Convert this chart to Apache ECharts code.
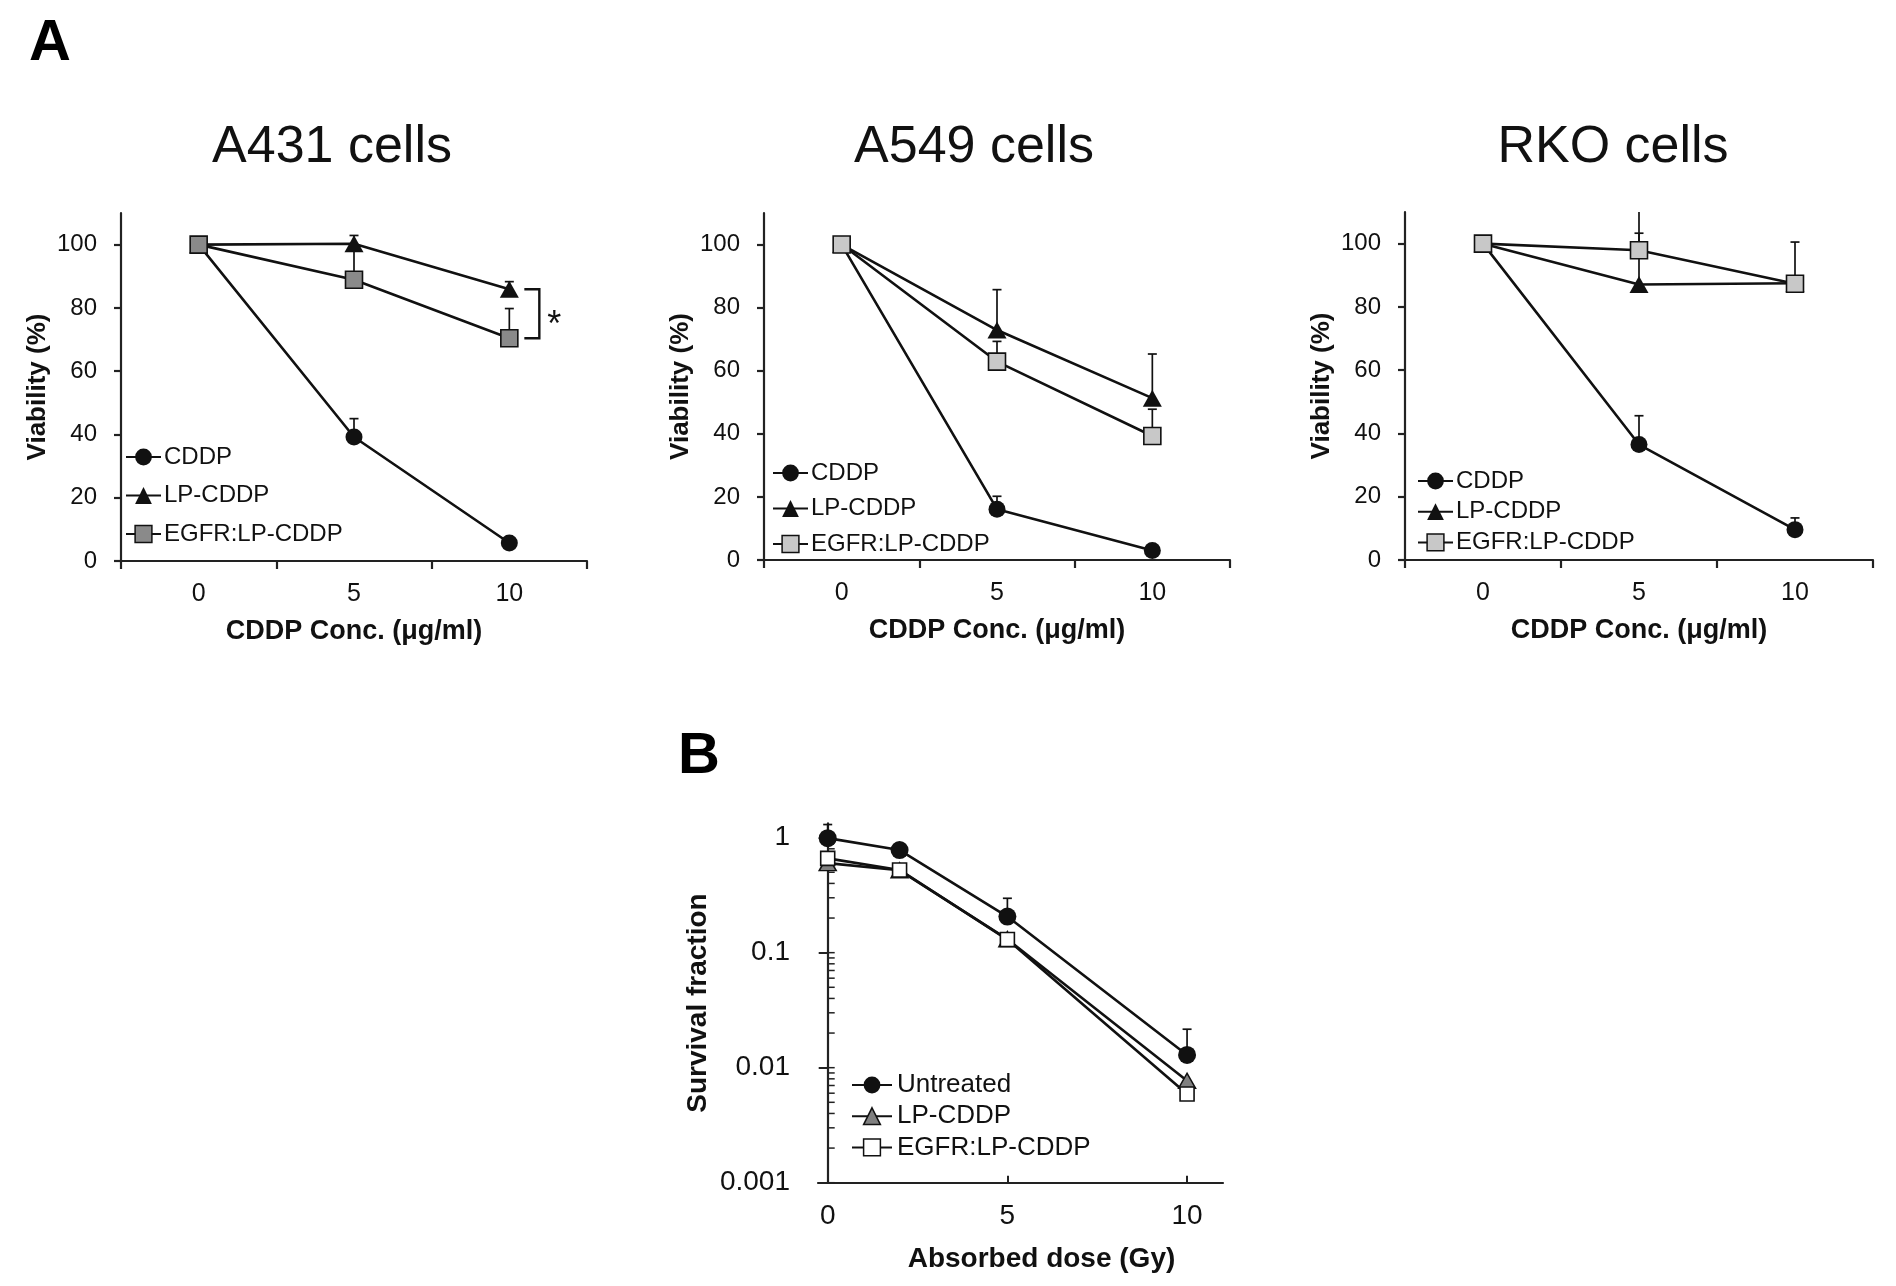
<!DOCTYPE html>
<html><head><meta charset="utf-8">
<script src="https://cdn.jsdelivr.net/npm/echarts@6/dist/echarts.min.js"></script>
<style>html,body{margin:0;padding:0;background:#fff}#c{width:1896px;height:1286px}</style>
</head><body><div id="c"></div>
<script>
// ---------- DATA ----------
const concCategories = ['0', '5', '10'];
const yTicksA = [0, 20, 40, 60, 80, 100];
const seriesNamesA = ['CDDP', 'LP-CDDP', 'EGFR:LP-CDDP'];
const panelTitles = ['A431 cells', 'A549 cells', 'RKO cells'];

const a431CDDP = [100, 39.2, 5.7];
const a431CDDPErr = [null, 45.0, null];
const a431LP = [100, 100.3, 85.9];
const a431LPErr = [null, 102.9, 88.3];
const a431EGFR = [100, 88.9, 70.4];
const a431EGFRErr = [null, 99.0, 79.8];

const a549CDDP = [100, 16.1, 3.0];
const a549CDDPErr = [null, 20.2, null];
const a549LP = [100, 72.9, 51.3];
const a549LPErr = [null, 85.7, 65.3];
const a549EGFR = [100, 62.9, 39.3];
const a549EGFRErr = [null, 69.3, 47.8];

const rkoCDDP = [100, 36.5, 9.6];
const rkoCDDPErr = [null, 45.6, 13.3];
const rkoLP = [100, 87.1, 87.5];
const rkoLPErr = [null, 113, null];
const rkoEGFR = [100, 97.9, 87.3];
const rkoEGFRErr = [null, 103.3, 100.5];

const doseB = [0, 2, 5, 10];
const xTicksB = [0, 5, 10];
const yTicksB = [0.001, 0.01, 0.1, 1];
const seriesNamesB = ['Untreated', 'LP-CDDP', 'EGFR:LP-CDDP'];
const untreatedB = [0.99, 0.78, 0.206, 0.0129];
const untreatedBErr = [1.3, null, 0.297, 0.0216];
const lpB = [0.6, 0.52, 0.131, 0.0077];
const egfrB = [0.66, 0.524, 0.13, 0.0059];
const minorTicksB = [0.002, 0.003, 0.004, 0.005, 0.006, 0.007, 0.008, 0.009,
  0.02, 0.03, 0.04, 0.05, 0.06, 0.07, 0.08, 0.09,
  0.2, 0.3, 0.4, 0.5, 0.6, 0.7, 0.8, 0.9];

// ---------- STYLE / LAYOUT ----------
const FONT = "'Liberation Sans', Arial, sans-serif";
const INK = '#111';
const AX = '#222';

const panelsA = [
  { grid: {left: 121, top: 213, width: 466, height: 348}, titleX: 332,
    cddp: a431CDDP, cddpErr: a431CDDPErr, lp: a431LP, lpErr: a431LPErr, egfr: a431EGFR, egfrErr: a431EGFRErr,
    egfrFill: '#8a8a8a', legend: {left: 125, top: 445, itemGap: 14.5, itemWidth: 35}, bracket: true },
  { grid: {left: 764, top: 213, width: 466, height: 347}, titleX: 974,
    cddp: a549CDDP, cddpErr: a549CDDPErr, lp: a549LP, lpErr: a549LPErr, egfr: a549EGFR, egfrErr: a549EGFRErr,
    egfrFill: '#c8c8c8', legend: {left: 772, top: 461, itemGap: 11.5, itemWidth: 35} },
  { grid: {left: 1405, top: 212, width: 468, height: 348}, titleX: 1613,
    cddp: rkoCDDP, cddpErr: rkoCDDPErr, lp: rkoLP, lpErr: rkoLPErr, egfr: rkoEGFR, egfrErr: rkoEGFRErr,
    egfrFill: '#c8c8c8', legend: {left: 1417, top: 469, itemGap: 6.7, itemWidth: 35} }
];

function errRows(xs, vals, tops) {
  const rows = [];
  tops.forEach((t, i) => { if (t != null) rows.push([xs[i], vals[i], t]); });
  return rows;
}
function errRender(params, api) {
  const x = api.value(0);
  const p0 = api.coord([x, api.value(1)]);
  const p1 = api.coord([x, api.value(2)]);
  return { type: 'group', children: [
    { type: 'line', shape: {x1: p0[0], y1: p0[1], x2: p1[0], y2: p1[1]}, style: {stroke: INK, lineWidth: 1.7} },
    { type: 'line', shape: {x1: p1[0] - 4.5, y1: p1[1], x2: p1[0] + 4.5, y2: p1[1]}, style: {stroke: INK, lineWidth: 1.7} }
  ]};
}

const option = {
  animation: false,
  backgroundColor: '#fff',
  textStyle: {fontFamily: FONT, color: INK},
  title: [], legend: [], grid: [], xAxis: [], yAxis: [], series: []
};

option.title.push({text: 'A', left: 29, top: 15, padding: 0, textStyle: {fontSize: 58, fontWeight: 'bold', color: '#000', fontFamily: FONT}});
option.title.push({text: 'B', left: 678, top: 728, padding: 0, textStyle: {fontSize: 58, fontWeight: 'bold', color: '#000', fontFamily: FONT}});

panelsA.forEach((p, i) => {
  option.title.push({text: panelTitles[i], left: p.titleX, top: 122, textAlign: 'center', padding: 0,
    textStyle: {fontSize: 52, fontWeight: 'normal', color: INK, fontFamily: FONT}});
  option.grid.push(p.grid);
  option.xAxis.push({
    type: 'category', gridIndex: i, data: concCategories, boundaryGap: true,
    axisLine: {lineStyle: {color: AX, width: 2.2}},
    axisTick: {show: true, length: 8, lineStyle: {color: AX, width: 2.2}},
    axisLabel: {fontSize: 25, color: INK, margin: 21, fontFamily: FONT},
    splitLine: {show: false},
    name: 'CDDP Conc. (μg/ml)', nameLocation: 'middle', nameGap: 57,
    nameTextStyle: {fontSize: 27, fontWeight: 'bold', color: INK, fontFamily: FONT}
  });
  option.yAxis.push({
    type: 'value', gridIndex: i, min: 0, max: 110,
    axisLine: {show: true, lineStyle: {color: AX, width: 2.2}},
    axisTick: {show: true, length: 7, customValues: yTicksA, lineStyle: {color: AX, width: 2.2}},
    axisLabel: {fontSize: 24, color: INK, margin: 24, customValues: yTicksA, fontFamily: FONT},
    splitLine: {show: false},
    name: 'Viability (%)', nameLocation: 'middle', nameRotate: 90, nameGap: 70,
    nameTextStyle: {fontSize: 26, fontWeight: 'bold', color: INK, fontFamily: FONT}
  });
  const legendItems = [
    {name: seriesNamesA[0], itemStyle: {color: INK}},
    {name: seriesNamesA[1], itemStyle: {color: INK}},
    {name: seriesNamesA[2], itemStyle: {color: p.egfrFill, borderColor: INK, borderWidth: 1.5}}
  ];
  option.legend.push({
    orient: 'vertical', left: p.legend.left, top: p.legend.top, itemGap: p.legend.itemGap, padding: 0,
    itemWidth: p.legend.itemWidth, itemHeight: 21, selectedMode: false, data: legendItems,
    textStyle: {fontSize: 24, color: INK, fontFamily: FONT, padding: [0, 0, 0, -2]}
  });
  const common = {type: 'line', xAxisIndex: i, yAxisIndex: i, showSymbol: true, z: 3,
    lineStyle: {color: INK, width: 2.6}, emphasis: {disabled: true}};
  option.series.push(Object.assign({}, common, {name: seriesNamesA[0], data: p.cddp, symbol: 'circle', symbolSize: 17,
    itemStyle: {color: INK}}));
  option.series.push(Object.assign({}, common, {name: seriesNamesA[1], data: p.lp, symbol: 'triangle', symbolSize: [19, 17],
    itemStyle: {color: INK}}));
  option.series.push(Object.assign({}, common, {name: seriesNamesA[2], data: p.egfr, symbol: 'rect', symbolSize: 17,
    itemStyle: {color: p.egfrFill, borderColor: INK, borderWidth: 1.6}}));
  const errs = [].concat(errRows(concCategories, p.cddp, p.cddpErr), errRows(concCategories, p.lp, p.lpErr),
    errRows(concCategories, p.egfr, p.egfrErr));
  option.series.push({type: 'custom', xAxisIndex: i, yAxisIndex: i, data: errs, renderItem: errRender,
    clip: true, silent: true, z: 1, encode: {x: 0, y: [1, 2]}});
  if (p.bracket) {
    option.series.push({type: 'custom', xAxisIndex: i, yAxisIndex: i, silent: true, z: 2,
      data: [[concCategories[2], p.lp[2], p.egfr[2]]], encode: {x: 0, y: [1, 2]},
      renderItem: function (params, api) {
        const c = api.value(0);
        const pt = api.coord([c, api.value(1)]);
        const pb = api.coord([c, api.value(2)]);
        const x0 = pt[0] + 15, x1 = pt[0] + 30;
        return {type: 'group', children: [
          {type: 'polyline', shape: {points: [[x0, pt[1]], [x1, pt[1]], [x1, pb[1]], [x0, pb[1]]]},
            style: {stroke: INK, lineWidth: 2.4, fill: null}},
          {type: 'text', style: {text: '*', x: x1 + 15, y: (pt[1] + pb[1]) / 2 + 12, fontSize: 36,
            fontFamily: FONT, fill: INK, align: 'center', verticalAlign: 'middle'}}
        ]};
      }});
  }
});

// ---------- Panel B ----------
const gB = 3;
option.grid.push({left: 818, top: 823.4, width: 405, height: 359.3});
option.xAxis.push({
  type: 'value', gridIndex: gB, min: -0.27, max: 11,
  axisLine: {onZero: false, lineStyle: {color: AX, width: 2.2}},
  axisTick: {show: true, inside: true, length: 7, customValues: xTicksB, lineStyle: {color: AX, width: 2}},
  axisLabel: {fontSize: 28, color: INK, margin: 20, customValues: xTicksB, fontFamily: FONT},
  splitLine: {show: false},
  name: 'Absorbed dose (Gy)', nameLocation: 'middle', nameGap: 63,
  nameTextStyle: {fontSize: 28, fontWeight: 'bold', color: INK, fontFamily: FONT, padding: [0, 0, 0, 42]}
});
option.yAxis.push({
  type: 'log', logBase: 10, gridIndex: gB, min: 0.001, max: 1.33,
  axisLine: {show: true, onZero: true, lineStyle: {color: AX, width: 2.2}},
  axisTick: {show: true, length: 9, lineStyle: {color: AX, width: 2}},
  axisLabel: {fontSize: 28, color: INK, margin: 28, fontFamily: FONT, showMaxLabel: false,
    formatter: function (v) {
      const l = Math.log10(v);
      if (Math.abs(l - Math.round(l)) > 1e-6) return '';
      return String(+Number(v).toPrecision(3));
    }},
  splitLine: {show: false}, minorTick: {show: false},
  name: 'Survival fraction', nameLocation: 'middle', nameRotate: 90, nameGap: 106,
  nameTextStyle: {fontSize: 28, fontWeight: 'bold', color: INK, fontFamily: FONT}
});
option.legend.push({
  orient: 'vertical', left: 851, top: 1072, itemGap: 5.2, itemWidth: 40, itemHeight: 21, selectedMode: false, padding: 0,
  data: [
    {name: seriesNamesB[0], itemStyle: {color: INK}},
    {name: seriesNamesB[1], itemStyle: {color: '#808080', borderColor: INK, borderWidth: 1.5}},
    {name: seriesNamesB[2], itemStyle: {color: '#ffffff', borderColor: INK, borderWidth: 1.5}}
  ],
  textStyle: {fontSize: 26, color: INK, fontFamily: FONT}
});
const commonB = {type: 'line', xAxisIndex: gB, yAxisIndex: gB, showSymbol: true, z: 3,
  lineStyle: {color: INK, width: 2.6}, emphasis: {disabled: true}};
const zipB = (vals) => doseB.map((d, i) => [d, vals[i]]);
option.series.push(Object.assign({}, commonB, {name: seriesNamesB[0], data: zipB(untreatedB), symbol: 'circle', symbolSize: 18,
  itemStyle: {color: INK}}));
option.series.push(Object.assign({}, commonB, {name: seriesNamesB[1], data: zipB(lpB), symbol: 'triangle', symbolSize: [17, 15],
  itemStyle: {color: '#808080', borderColor: INK, borderWidth: 1.5}}));
option.series.push(Object.assign({}, commonB, {name: seriesNamesB[2], data: zipB(egfrB), symbol: 'rect', symbolSize: 14,
  itemStyle: {color: '#ffffff', borderColor: INK, borderWidth: 1.6}}));
option.series.push({type: 'custom', xAxisIndex: gB, yAxisIndex: gB, data: errRows(doseB, untreatedB, untreatedBErr),
  renderItem: errRender, clip: false, silent: true, z: 1, encode: {x: 0, y: [1, 2]}});
option.series.push({type: 'custom', xAxisIndex: gB, yAxisIndex: gB, silent: true, z: 1, clip: false,
  data: minorTicksB.concat(yTicksB).map(v => [0, v]), encode: {x: 0, y: 1},
  renderItem: function (params, api) {
    const p = api.coord([api.value(0), api.value(1)]);
    return {type: 'line', shape: {x1: p[0], y1: p[1], x2: p[0] + 7, y2: p[1]}, style: {stroke: AX, lineWidth: 1.5}};
  }});

const chart = echarts.init(document.getElementById('c'), null, {renderer: 'canvas'});
chart.setOption(option);
</script>
</body></html>
